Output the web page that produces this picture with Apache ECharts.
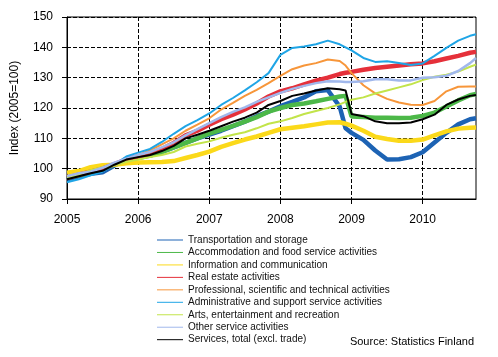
<!DOCTYPE html>
<html>
<head>
<meta charset="utf-8">
<style>
html,body{margin:0;padding:0;background:#fff;}
#chart{width:498px;height:357px;}
</style>
<script src="https://cdn.jsdelivr.net/npm/echarts@6/dist/echarts.min.js"></script>
</head>
<body>
<div id="chart"></div>
<script>
// Month index from January 2005 (0) ... October 2010 (69)
var monthCount = 70;
var sampleMonths = [0,2,4,6,8,10,12,14,16,18,20,22,24,26,28,30,32,34,36,38,40,42,44,46,47,48,50,52,54,56,58,60,62,64,66,68,69];

var seriesNames = [
  'Transportation and storage',
  'Accommodation and food service activities',
  'Information and communication',
  'Real estate activities',
  'Professional, scientific and technical activities',
  'Administrative and support service activities',
  'Arts, entertainment and recreation',
  'Other service activities',
  'Services, total (excl. trade)'
];

var transport = [96.5,97.5,98.3,98.8,101,103.3,104,104.3,105.5,107,108.5,110,111.2,112.5,114,115.5,117.3,118.8,120.6,122,123.5,125.5,125.9,120.5,113.3,111.8,109.5,106,103,103.1,103.8,105.4,108.6,111.8,114.6,116.3,116.6];
var accommodation = [97,97.8,98.7,99.8,101.3,102.8,103.5,104.3,105.5,107,108.5,110,111.6,112.8,114.1,115.5,117,118.8,120,121,121.5,122.2,123,123.8,124,117.2,117,116.8,116.8,116.7,116.8,117.4,118.5,120.5,122.5,124.2,124.6];
var information = [98.7,99.2,100.5,101.1,101.3,101.8,102,102.1,102.2,102.5,103.5,104.5,105.6,107.2,108.4,109.6,110.6,111.8,113,113.5,114,114.6,115.2,115.3,114.8,114.2,112.5,110.5,109.8,109.2,109.2,109.6,111,112.3,113.2,113.5,113.6];
var realEstate = [97,98,99,100,101.5,103,104,105,106.5,108.5,111,112.5,114.5,116.3,117.8,119.5,121.5,123.8,125.5,126.5,127.8,129,130,131.2,131.6,131.9,132.6,133.2,133.6,134,134.4,134.7,135.4,136.3,137.2,138.2,138.5];
var professional = [97.5,98.5,99.5,100.5,101.5,103,104.5,106,108,110,112.5,114.5,116.6,119.5,121.7,124,126,128.2,130.6,132.8,134,134.8,136,135.5,134,131.5,127.5,124.8,123,121.8,121.1,121,122.3,125.5,127,127.1,127.1];
var administrative = [95.5,96.5,97.8,99,101.3,104,105.3,106.5,108.8,111.5,114,116,118.2,121,123.3,125.8,128.5,131.5,137.5,139.8,140.3,141,142.2,141,140,139,136.5,135.2,135.4,134.8,134.2,134.7,137.2,139.8,142.2,143.8,144.3];
var arts = [97,98,99.5,100.5,101,102.3,103,103.8,104.5,105.5,107.3,108.2,109,110.2,111.2,112,113.3,114.8,115.6,116.7,118,119,120,121.2,122,122.7,123.5,124.8,125.8,126.8,127.8,129.2,130.3,131,132,133.6,134.3];
var otherService = [97.5,98.5,99,100.3,102,103.3,104.5,105.5,107,108.7,111,113,115,117,118.7,120.2,122,123.5,125,126.3,127.3,128.2,128.8,128.7,128.6,128.6,128.8,129.5,129.5,129.1,129.1,130,130.1,130.6,132.2,134.8,136.5];
var servicesTotal = [96.5,97.5,98.5,99.3,101.3,103,103.8,104.5,105.8,107.5,110,111.2,112.5,114,115.5,116.8,118.5,121,122.3,124,124.8,125.8,126.5,126.2,125.8,118,117.3,115.6,115,115,115.2,116.3,117.8,121,122.8,124,124.3];

var seriesValues = [transport, accommodation, information, realEstate, professional, administrative, arts, otherService, servicesTotal];
var seriesColors = ['#1d63b4','#4cb848','#fbd91a','#e5303a','#f7963a','#1fa5e6','#c2e44a','#a1b8ec','#000000'];
var seriesWidths = [4.5,4.5,4.5,4.5,2,2,2,2.5,2];

var monthLabels = [];
for (var i = 0; i < monthCount; i++) {
  var yr = 2005 + Math.floor(i / 12);
  var mo = (i % 12) + 1;
  monthLabels.push(yr + 'M' + (mo < 10 ? '0' + mo : mo));
}

var FONT = '"Liberation Sans", Arial, sans-serif';

var series = seriesNames.map(function (name, k) {
  return {
    name: name,
    type: 'line',
    showSymbol: false,
    symbol: 'none',
    smooth: false,
    animation: false,
    color: seriesColors[k],
    itemStyle: { color: seriesColors[k], borderWidth: 0 },
    lineStyle: { color: seriesColors[k], width: seriesWidths[k] },
    data: sampleMonths.map(function (m, j) { return [m, seriesValues[k][j]]; })
  };
});

var chart = echarts.init(document.getElementById('chart'), null, { renderer: 'canvas' });
chart.setOption({
  animation: false,
  backgroundColor: '#fff',
  grid: { left: 67, right: 22, top: 17, bottom: 158, show: true, borderColor: '#000', borderWidth: 1, backgroundColor: 'transparent' },
  xAxis: {
    type: 'category',
    data: monthLabels,
    boundaryGap: false,
    axisLine: { show: true, lineStyle: { color: '#000', width: 1 } },
    axisTick: { show: true, interval: 11, length: 5, lineStyle: { color: '#000' } },
    axisLabel: { interval: 11, margin: 15, color: '#000', fontSize: 12, fontFamily: FONT, formatter: function (v) { return v.slice(0, 4); } },
    splitLine: { show: true, interval: 11, lineStyle: { color: '#000', type: [4, 2], width: 1 } }
  },
  yAxis: {
    type: 'value',
    min: 90, max: 150, interval: 10,
    name: 'Index (2005=100)',
    nameLocation: 'middle',
    nameGap: 46,
    nameTextStyle: { color: '#000', fontSize: 12, fontFamily: FONT },
    axisLine: { show: true, lineStyle: { color: '#000', width: 1 } },
    axisTick: { show: true, length: 5, lineStyle: { color: '#000' } },
    axisLabel: { margin: 14, color: '#000', fontSize: 12, fontFamily: FONT },
    splitLine: { show: true, lineStyle: { color: '#000', type: [4, 2], width: 1 } }
  },
  legend: {
    orient: 'vertical',
    left: 157,
    top: 234,
    itemWidth: 26,
    itemHeight: 1,
    itemGap: 0.46,
    icon: 'rect',
    padding: 0,
    itemStyle: { borderWidth: 0 },
    lineStyle: { width: 0 },
    textStyle: { color: '#111', fontSize: 10, fontFamily: FONT, lineHeight: 12 },
    data: seriesNames
  },
  graphic: [{
    type: 'text',
    right: 24,
    top: 336,
    style: { text: 'Source: Statistics Finland', fill: '#000', font: '11px ' + FONT }
  }],
  series: series
});
</script>
</body>
</html>
